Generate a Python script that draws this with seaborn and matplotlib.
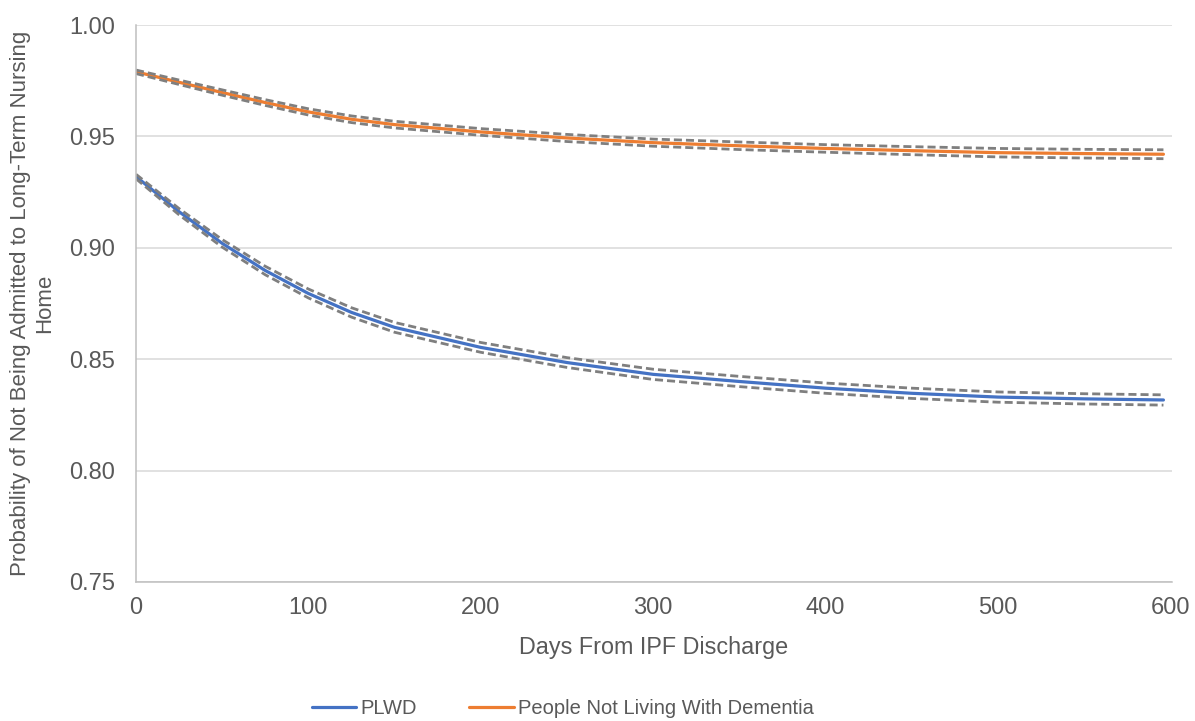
import numpy as np
import pandas as pd
import matplotlib.pyplot as plt
import seaborn as sns

# Data
days = [0, 25, 50, 75, 100, 125, 150, 200, 250, 300, 350, 400, 450, 500, 550, 596]

plwd = [0.9320, 0.9162, 0.9020, 0.8898, 0.8795, 0.8710, 0.8643, 0.8553,
        0.8485, 0.8432, 0.8400, 0.8370, 0.8347, 0.8330, 0.8322, 0.8317]
plwd_upper = [0.9330, 0.9176, 0.9037, 0.8917, 0.8815, 0.8731, 0.8665, 0.8575,
              0.8507, 0.8455, 0.8423, 0.8393, 0.8370, 0.8353, 0.8345, 0.8340]
plwd_lower = [0.9310, 0.9148, 0.9003, 0.8879, 0.8775, 0.8689, 0.8621, 0.8531,
              0.8463, 0.8409, 0.8377, 0.8347, 0.8324, 0.8307, 0.8299, 0.8294]

no_dementia = [0.9790, 0.9743, 0.9697, 0.9652, 0.9610, 0.9577, 0.9553, 0.9520,
               0.9493, 0.9472, 0.9458, 0.9446, 0.9436, 0.9427, 0.9423, 0.9420]
no_dementia_upper = [0.9798, 0.9753, 0.9709, 0.9665, 0.9624, 0.9592, 0.9568, 0.9535,
                     0.9509, 0.9488, 0.9475, 0.9463, 0.9454, 0.9446, 0.9442, 0.9440]
no_dementia_lower = [0.9782, 0.9733, 0.9685, 0.9639, 0.9596, 0.9562, 0.9538, 0.9505,
                     0.9477, 0.9456, 0.9441, 0.9429, 0.9418, 0.9408, 0.9403, 0.9400]

# Style
sns.set_style('white')
plt.rcParams['font.family'] = ['Liberation Sans', 'DejaVu Sans']
text_col = '#595959'
blue = '#4472C4'
orange = '#ED7D31'
ci_col = '#7F7F7F'

fig = plt.figure(figsize=(11.95, 7.21), dpi=100)
ax = fig.add_axes([0.1138, 0.1928, 0.8670, 0.7725])

# main curves
sns.lineplot(x=days, y=plwd, color=blue, lw=2.3, ax=ax, label='PLWD')
sns.lineplot(x=days, y=no_dementia, color=orange, lw=2.3, ax=ax,
             label='People Not Living With Dementia')

# confidence bounds (dashed)
for ys in [plwd_upper, plwd_lower, no_dementia_upper, no_dementia_lower]:
    ax.plot(days, ys, color=ci_col, lw=2.0, dashes=(2.9, 1.45))

ax.set_xlim(0, 601)
ax.set_ylim(0.75, 1.00)
ax.set_xticks([0, 100, 200, 300, 400, 500, 600])
ax.set_yticks([0.75, 0.80, 0.85, 0.90, 0.95, 1.00])
ax.set_yticklabels([f'{v:.2f}' for v in [0.75, 0.80, 0.85, 0.90, 0.95, 1.00]])

ax.yaxis.grid(True, color='#D9D9D9', lw=1.1)
ax.set_axisbelow(True)
for s in ['top', 'right']:
    ax.spines[s].set_visible(False)
for s in ['left', 'bottom']:
    ax.spines[s].set_color('#BFBFBF')
    ax.spines[s].set_linewidth(1.1)

ax.tick_params(axis='both', length=0, labelsize=17, labelcolor=text_col)
ax.tick_params(axis='y', pad=15)
ax.tick_params(axis='x', pad=11)

ax.set_xlabel('Days From IPF Discharge', fontsize=16.8, color=text_col, labelpad=12)
ax.set_ylabel('Probability of Not Being Admitted to Long-Term Nursing\nHome',
              fontsize=16, color=text_col, labelpad=10)

ax.get_legend().remove()
handles, labels = ax.get_legend_handles_labels()
fig.legend(handles[:2], labels[:2], loc='center', bbox_to_anchor=(0.471, 0.017),
           ncol=2, frameon=False, fontsize=14.5, labelcolor=text_col,
           handlelength=2.2, handletextpad=0.2, columnspacing=2.6)

fig.savefig('out.png', dpi=100, facecolor='white')
